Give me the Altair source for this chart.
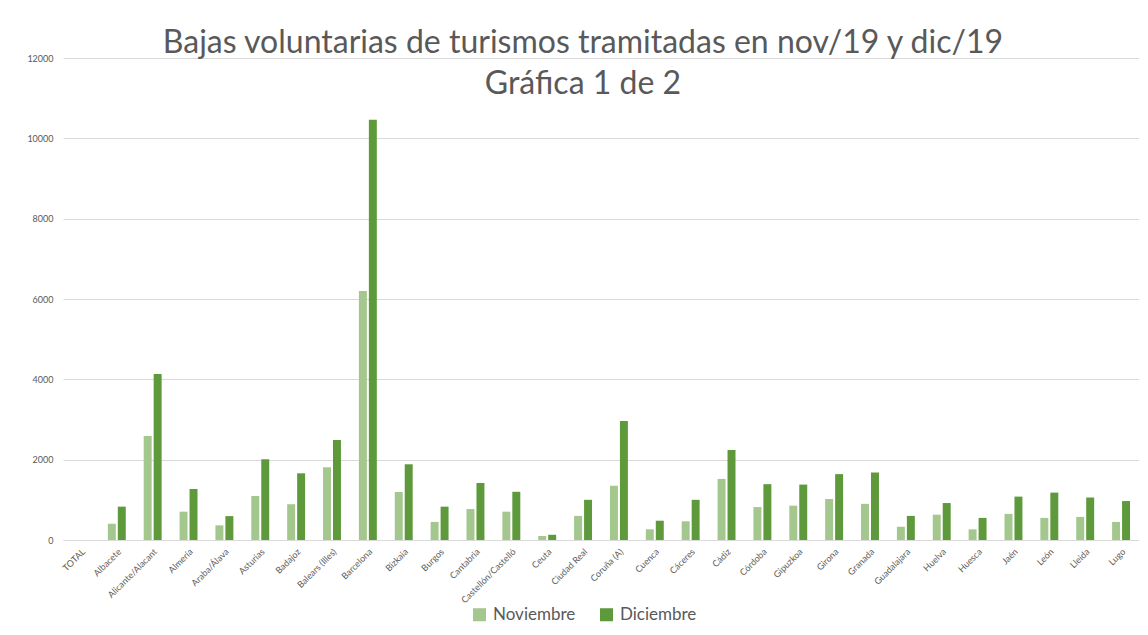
import altair as alt
import pandas as pd

provincias = ["TOTAL", "Albacete", "Alicante/Alacant", "Almería", "Araba/Álava", "Asturias",
              "Badajoz", "Balears (Illes)", "Barcelona", "Bizkaia", "Burgos", "Cantabria",
              "Castellón/Castelló", "Ceuta", "Ciudad Real", "Coruña (A)", "Cuenca", "Cáceres",
              "Cádiz", "Córdoba", "Gipuzkoa", "Girona", "Granada", "Guadalajara", "Huelva",
              "Huesca", "Jaén", "León", "Lleida", "Lugo"]
noviembre = [None, 405, 2590, 705, 365, 1095, 890, 1810, 6200, 1195, 450, 770,
             705, 100, 600, 1350, 265, 465, 1520, 820, 855, 1020, 900, 330, 630,
             265, 650, 550, 575, 450]
diciembre = [None, 830, 4135, 1270, 595, 2010, 1660, 2490, 10460, 1885, 830, 1420,
             1200, 130, 1000, 2960, 480, 1000, 2240, 1390, 1380, 1640, 1680, 600, 920,
             550, 1080, 1180, 1055, 970]
meses = ["Noviembre", "Diciembre"]
colores = ["#A3C78D", "#5E9A3B"]
y_ticks = [0, 2000, 4000, 6000, 8000, 10000, 12000]

rows = []
for i, p in enumerate(provincias):
    rows.append({"provincia": p, "mes": meses[0], "valor": noviembre[i]})
    rows.append({"provincia": p, "mes": meses[1], "valor": diciembre[i]})
df = pd.DataFrame(rows)

FONT = "Lato"
GREY = "#595959"

chart = alt.Chart(df).mark_bar().encode(
    x=alt.X("provincia:N", sort=provincias, title=None,
            scale=alt.Scale(paddingInner=0.5, paddingOuter=0.25),
            axis=alt.Axis(labelAngle=-45, labelFontSize=9, labelColor=GREY, labelFont=FONT,
                          ticks=False, domainColor="#D9D9D9", labelPadding=7,
                          labelOverlap=False)),
    xOffset=alt.XOffset("mes:N", sort=meses, scale=alt.Scale(paddingInner=0.2)),
    y=alt.Y("valor:Q", title=None,
            scale=alt.Scale(domain=[0, 12000], nice=False),
            axis=alt.Axis(values=y_ticks, format="d", labelFontSize=9, labelColor=GREY,
                          labelFont=FONT, ticks=False, domain=False, gridColor="#D9D9D9",
                          labelPadding=10)),
    color=alt.Color("mes:N", sort=meses, title=None,
                    scale=alt.Scale(domain=meses, range=colores),
                    legend=alt.Legend(orient="none", legendX=408, legendY=548,
                                      direction="horizontal", symbolType="square",
                                      symbolSize=170, symbolStrokeWidth=0,
                                      labelFontSize=17, labelFont=FONT, labelColor=GREY,
                                      columnPadding=22, labelOffset=5)),
).properties(
    width=1076,
    height=482,
    padding={"left": 55, "top": 50, "right": 0, "bottom": 85},
    autosize=alt.AutoSizeParams(type="none"),
    title=alt.TitleParams(
        text=["Bajas voluntarias de turismos tramitadas en nov/19 y dic/19", "Gráfica 1 de 2"],
        fontSize=32, font=FONT, fontWeight="normal", color=GREY,
        anchor="middle", frame="bounds", lineHeight=41, dy=51),
).configure_view(stroke=None)

chart.save("out.html", embed_options={"renderer": "svg", "actions": False})
